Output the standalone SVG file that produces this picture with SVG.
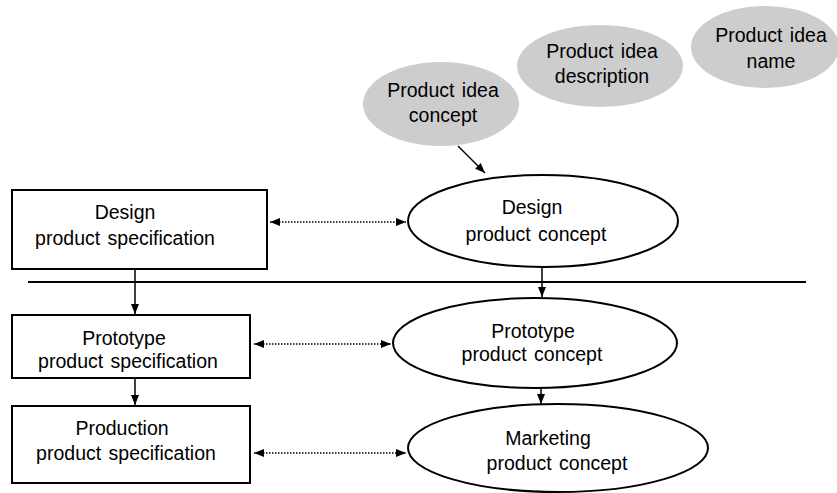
<svg xmlns="http://www.w3.org/2000/svg" width="837" height="493" viewBox="0 0 837 493">
<defs>
<marker id="ah" viewBox="0 0 10 8" refX="10" refY="4" markerWidth="10" markerHeight="8" markerUnits="userSpaceOnUse" orient="auto-start-reverse">
<path d="M0,0 L10,4 L0,8 Z" fill="#000"/>
</marker>
<style>
text{font-family:"Liberation Sans",Arial,sans-serif;font-size:19.5px;word-spacing:2px;fill:#000;text-anchor:middle}
.box{fill:#fff;stroke:#000;stroke-width:2}
.ell{fill:#fff;stroke:#000;stroke-width:2}
.gray{fill:#cdcdcd;stroke:none}
.flow{stroke:#000;stroke-width:1.5;fill:none}
.dot{stroke:#000;stroke-width:1.5;stroke-dasharray:1.5 1.5;fill:none}
</style>
</defs>
<rect width="837" height="493" fill="#fff"/>
<line x1="28" y1="282" x2="806" y2="282" stroke="#000" stroke-width="2"/>
<g id="idea-concept"><ellipse class="gray" cx="441" cy="104" rx="78" ry="42"/><text x="443" y="97">Product idea</text><text x="443" y="122">concept</text></g>
<g id="idea-description"><ellipse class="gray" cx="600" cy="66" rx="83" ry="41"/><text x="602" y="58">Product idea</text><text x="602" y="83">description</text></g>
<g id="idea-name"><ellipse class="gray" cx="765" cy="47" rx="74" ry="41"/><text x="771" y="42">Product idea</text><text x="771" y="68">name</text></g>
<g id="design-spec"><rect class="box" x="12" y="190" width="255" height="79"/><text x="125" y="219">Design</text><text x="125" y="245">product specification</text></g>
<g id="prototype-spec"><rect class="box" x="12" y="315" width="238" height="63"/><text x="124" y="345">Prototype</text><text x="128" y="368">product specification</text></g>
<g id="production-spec"><rect class="box" x="12" y="406" width="238" height="77"/><text x="122" y="435">Production</text><text x="126" y="460">product specification</text></g>
<g id="design-concept"><ellipse class="ell" cx="543" cy="221" rx="135" ry="46"/><text x="532" y="214">Design</text><text x="536" y="241">product concept</text></g>
<g id="prototype-concept"><ellipse class="ell" cx="535" cy="343" rx="142" ry="45"/><text x="533" y="338">Prototype</text><text x="532" y="361">product concept</text></g>
<g id="marketing-concept"><ellipse class="ell" cx="558" cy="448" rx="150" ry="44"/><text x="548" y="445">Marketing</text><text x="557" y="470">product concept</text></g>
<g id="connectors">
<line class="flow" x1="458" y1="146" x2="485" y2="173" marker-end="url(#ah)"/>
<line class="flow" x1="135" y1="269" x2="135" y2="314" marker-end="url(#ah)"/>
<line class="flow" x1="135" y1="378" x2="135" y2="405" marker-end="url(#ah)"/>
<line class="flow" x1="542" y1="267" x2="542" y2="297" marker-end="url(#ah)"/>
<line class="flow" x1="541" y1="388" x2="541" y2="404" marker-end="url(#ah)"/>
<line class="dot" x1="270" y1="222" x2="406" y2="222" marker-start="url(#ah)" marker-end="url(#ah)"/>
<line class="dot" x1="254" y1="344" x2="391" y2="344" marker-start="url(#ah)" marker-end="url(#ah)"/>
<line class="dot" x1="254" y1="453" x2="406" y2="453" marker-start="url(#ah)" marker-end="url(#ah)"/>
</g>
</svg>
